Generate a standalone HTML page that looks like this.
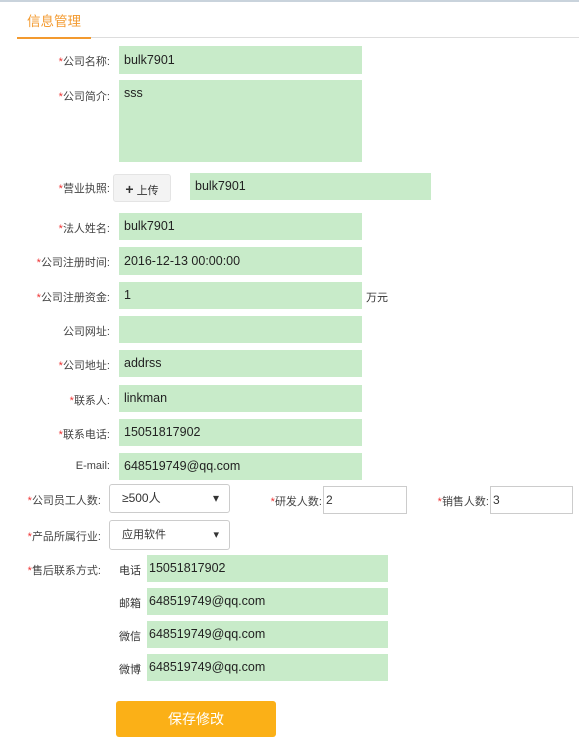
<!DOCTYPE html>
<html><head><meta charset="utf-8"><style>
body{margin:0;width:579px;height:741px;background:#fff;position:relative;overflow:hidden;font-family:"Liberation Sans","Noto Sans CJK SC",sans-serif;font-size:12px;color:#333}
.a{position:absolute}
.lab{position:absolute;text-align:right;width:200px;font-size:11px;color:#444}
.lab i{color:#e33;font-style:normal}
.box{position:absolute;background:#c8ebc9;box-sizing:border-box;padding-left:5px;font-size:12.5px;color:#222}
.sel{position:absolute;border:1px solid #ccc;border-radius:3px;box-sizing:border-box;background:#fff;padding-left:12px;font-size:12px}
.sel b{position:absolute;right:10px;top:0;font-weight:normal}
.inp{position:absolute;border:1px solid #ccc;box-sizing:border-box;background:#fff;padding-left:2px}
</style></head><body>
<div class="a" style="left:0;top:0;width:579px;height:2px;background:#c9d3dc"></div>
<div class="a" style="left:27px;top:10px;font-size:13.5px;color:#f39a2f">信息管理</div>
<div class="a" style="left:17px;top:37px;width:562px;height:1px;background:#ddd"></div>
<div class="a" style="left:17px;top:37px;width:74px;height:2px;background:#f39a2f"></div>

<div class="lab" style="left:-90px;top:53px"><i>*</i>公司名称:</div>
<div class="box" style="left:119px;top:46px;width:243px;height:28px;line-height:28px">bulk7901</div>
<div class="lab" style="left:-90px;top:88px"><i>*</i>公司简介:</div>
<div class="box" style="left:119px;top:80px;width:243px;height:82px;padding-top:6px">sss</div>

<div class="lab" style="left:-90px;top:180px"><i>*</i>营业执照:</div>
<div class="a" style="left:113px;top:174px;width:58px;height:28px;line-height:28px;background:#f3f3f3;border:1px solid #e4e4e4;border-radius:3px;box-sizing:border-box;text-align:center;font-size:11px"><b style="font-size:14px">+</b> 上传</div>
<div class="box" style="left:190px;top:173px;width:241px;height:27px;line-height:27px">bulk7901</div>

<div class="lab" style="left:-90px;top:220px"><i>*</i>法人姓名:</div>
<div class="box" style="left:119px;top:213px;width:243px;height:27px;line-height:27px">bulk7901</div>
<div class="lab" style="left:-90px;top:254px"><i>*</i>公司注册时间:</div>
<div class="box" style="left:119px;top:247px;width:243px;height:28px;line-height:28px">2016-12-13 00:00:00</div>
<div class="lab" style="left:-90px;top:289px"><i>*</i>公司注册资金:</div>
<div class="box" style="left:119px;top:282px;width:243px;height:27px;line-height:27px">1</div>
<div class="a" style="left:366px;top:289px;font-size:11px">万元</div>
<div class="lab" style="left:-90px;top:323px">公司网址:</div>
<div class="box" style="left:119px;top:316px;width:243px;height:27px"></div>
<div class="lab" style="left:-90px;top:357px"><i>*</i>公司地址:</div>
<div class="box" style="left:119px;top:350px;width:243px;height:27px;line-height:27px">addrss</div>
<div class="lab" style="left:-90px;top:392px"><i>*</i>联系人:</div>
<div class="box" style="left:119px;top:385px;width:243px;height:27px;line-height:27px">linkman</div>
<div class="lab" style="left:-90px;top:426px"><i>*</i>联系电话:</div>
<div class="box" style="left:119px;top:419px;width:243px;height:27px;line-height:27px">15051817902</div>
<div class="lab" style="left:-90px;top:460px">E-mail:</div>
<div class="box" style="left:119px;top:453px;width:243px;height:27px;line-height:27px">648519749@qq.com</div>

<div class="lab" style="left:-99px;top:492px"><i>*</i>公司员工人数:</div>
<div class="sel" style="left:109px;top:484px;width:121px;height:29px;line-height:27px">≥500人<b>▾</b></div>
<div class="lab" style="left:122px;top:493px"><i>*</i>研发人数:</div>
<div class="inp" style="left:323px;top:486px;width:84px;height:28px;line-height:26px">2</div>
<div class="lab" style="left:289px;top:493px"><i>*</i>销售人数:</div>
<div class="inp" style="left:490px;top:486px;width:83px;height:28px;line-height:26px">3</div>

<div class="lab" style="left:-99px;top:528px"><i>*</i>产品所属行业:</div>
<div class="sel" style="left:109px;top:520px;width:121px;height:30px;line-height:28px;font-size:11px">应用软件<b>▾</b></div>

<div class="lab" style="left:-99px;top:562px"><i>*</i>售后联系方式:</div>
<div class="a" style="left:119px;top:562px;font-size:11px">电话</div>
<div class="box" style="left:147px;top:555px;width:241px;height:27px;line-height:27px;padding-left:2px">15051817902</div>
<div class="a" style="left:119px;top:595px;font-size:11px">邮箱</div>
<div class="box" style="left:147px;top:588px;width:241px;height:27px;line-height:27px;padding-left:2px">648519749@qq.com</div>
<div class="a" style="left:119px;top:628px;font-size:11px">微信</div>
<div class="box" style="left:147px;top:621px;width:241px;height:27px;line-height:27px;padding-left:2px">648519749@qq.com</div>
<div class="a" style="left:119px;top:661px;font-size:11px">微博</div>
<div class="box" style="left:147px;top:654px;width:241px;height:27px;line-height:27px;padding-left:2px">648519749@qq.com</div>

<div class="a" style="left:116px;top:701px;width:160px;height:36px;line-height:36px;background:#fbb017;border-radius:3px;color:#fff;text-align:center;font-size:14px">保存修改</div>
</body></html>
